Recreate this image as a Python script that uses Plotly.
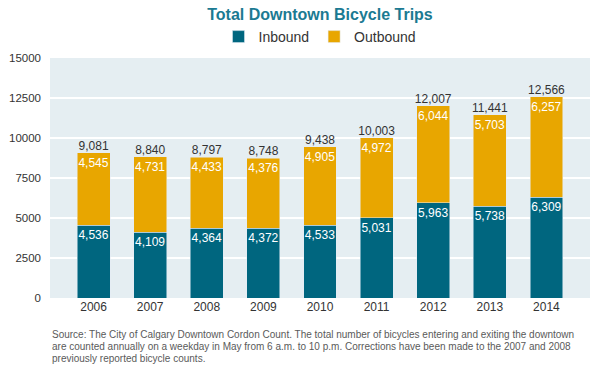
import plotly.graph_objects as go

years = ["2006", "2007", "2008", "2009", "2010", "2011", "2012", "2013", "2014"]
inbound = [4536, 4109, 4364, 4372, 4533, 5031, 5963, 5738, 6309]
outbound = [4545, 4731, 4433, 4376, 4905, 4972, 6044, 5703, 6257]
totals = [9081, 8840, 8797, 8748, 9438, 10003, 12007, 11441, 12566]
y_ticks = [0, 2500, 5000, 7500, 10000, 12500, 15000]
source_lines = [
    "Source: The City of Calgary Downtown Cordon Count. The total number of bicycles entering and exiting the downtown",
    "are counted annually on a weekday in May from 6 a.m. to 10 p.m. Corrections have been made to the 2007 and 2008",
    "previously reported bicycle counts.",
]

TEAL = "#00667f"
GOLD = "#e8a600"
FONT = "Liberation Sans, Arial, sans-serif"

fig = go.Figure()
fig.add_trace(go.Bar(
    x=years, y=inbound, name="Inbound", marker_color=TEAL, width=0.58,
    text=[f"{v:,}" for v in inbound], textposition="inside", textangle=0,
    insidetextanchor="end", constraintext="none",
    textfont=dict(color="white", size=12, family=FONT),
))
fig.add_trace(go.Bar(
    x=years, y=outbound, name="Outbound", marker_color=GOLD, width=0.58,
    text=[f"{v:,}" for v in outbound], textposition="inside", textangle=0,
    insidetextanchor="end", constraintext="none",
    textfont=dict(color="white", size=12, family=FONT),
))
fig.add_trace(go.Scatter(
    x=years, y=totals, mode="text", text=[f"{v:,}" for v in totals],
    textposition="top center", showlegend=False, hoverinfo="skip",
    textfont=dict(color="#333333", size=12, family=FONT),
))

fig.update_layout(
    width=600, height=372,
    margin=dict(l=50, r=10, t=58, b=74, autoexpand=False),
    barmode="stack",
    paper_bgcolor="white",
    plot_bgcolor="#e5eef2",
    font=dict(family=FONT, size=11, color="#333333"),
    title=dict(text="<b>Total Downtown Bicycle Trips</b>", x=0.5, xref="paper", xanchor="center",
               y=1 - 14/372, yanchor="middle",
               font=dict(size=16, color="#1b7a92", family=FONT)),
    legend=dict(orientation="h", x=0.5, xref="paper", xanchor="center",
                y=1 - 37/372, yref="container", yanchor="middle",
                font=dict(size=14, color="#333333", family=FONT),
                traceorder="normal", itemwidth=30),
    xaxis=dict(range=[-0.77, 8.77], showgrid=False, ticks="",
               tickfont=dict(size=12, color="#333333")),
    yaxis=dict(range=[0, 15000], tickvals=y_ticks, ticktext=[str(v) for v in y_ticks],
               gridcolor="white", gridwidth=2, zeroline=False, ticks="",
               ticklabelstandoff=8,
               tickfont=dict(size=11.5, color="#333333")),
)

for i, line in enumerate(source_lines):
    fig.add_annotation(
        text=line, xref="paper", yref="paper",
        x=0, y=-(334 + 12 * i - 298) / 240, xanchor="left", yanchor="middle",
        align="left", showarrow=False,
        font=dict(size=10, color="#5a5a5a", family=FONT),
    )

fig.write_html("out.html", config={"displayModeBar": False},
               post_script="document.body.style.margin='0';")
